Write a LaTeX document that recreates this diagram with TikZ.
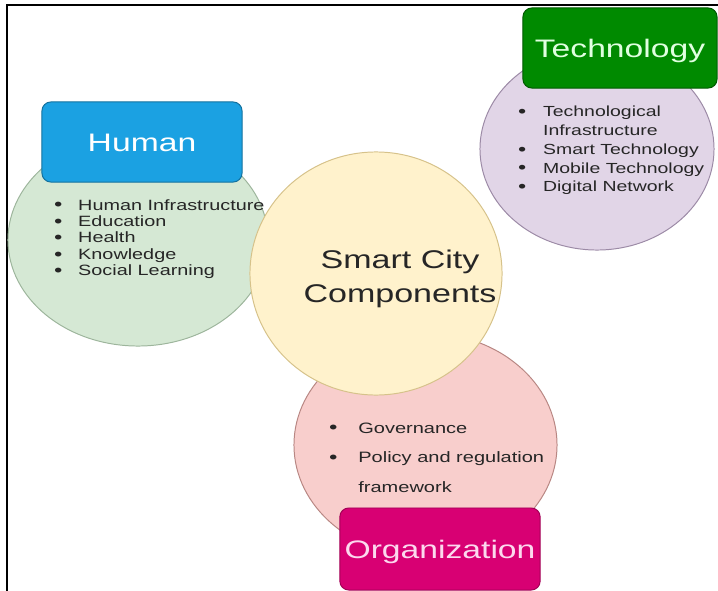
\documentclass[tikz,border=0pt]{standalone}
\usepackage{fontspec}
\setmainfont{Liberation Sans}[FakeStretch=1.33]
\usepackage{graphicx}
\usepackage{xcolor}
\usepackage{tikz}
\usetikzlibrary{shapes.geometric}
\definecolor{human area}{HTML}{D5E8D4}
\definecolor{human edge}{HTML}{9DB59C}
\definecolor{tech area}{HTML}{E1D5E7}
\definecolor{tech edge}{HTML}{9C8AA6}
\definecolor{org area}{HTML}{F8CECC}
\definecolor{org edge}{HTML}{B88783}
\definecolor{city area}{HTML}{FFF2CC}
\definecolor{city edge}{HTML}{D6C28A}
\definecolor{human box}{HTML}{1BA1E2}
\definecolor{tech box}{HTML}{008A00}
\definecolor{org box}{HTML}{D80073}
\colorlet{list text}{black!85}
\newcommand{\bul}{\makebox[0.47em]{\raisebox{-0.06em}{\scalebox{1.2}{\textbullet}}}}
\tikzset{blob/.style={ellipse, inner sep=0pt, line width=0.7pt},
    tagbox/.style={rectangle, rounded corners=0.22cm, line width=0.7pt,
        minimum width=5cm, minimum height=2cm, text height=13pt, text depth=0pt,
        font=\fontsize{18}{20}\selectfont},
    itemlist/.style={anchor=base west, inner sep=0pt, text=list text}}

\begin{document}
\begin{tikzpicture}[x=0.025cm, y=-0.025cm]
    \useasboundingbox (0,0) rectangle (718,591);
    \draw[line width=1.5pt] (7,591) -- (7,5) -- (718,5);
    % the four circles
    \node[blob, fill=human area, draw=human edge, minimum width=6.5cm, minimum height=5.3cm] (human) at (138,240) {};
    \node[blob, fill=tech area, draw=tech edge, minimum width=5.85cm, minimum height=5.05cm] (tech) at (597,149) {};
    \node[blob, fill=org area, draw=org edge, minimum width=6.575cm, minimum height=5.6cm] (org) at (425.5,445) {};
    \node[blob, fill=city area, draw=city edge, minimum width=6.3cm, minimum height=6.075cm] (city) at (376,273.5) {};
    % headings
    \node[tagbox, fill=human box, draw=human box!70!black, text=white] (humantag) at (142,142) {Human};
    \node[tagbox, fill=tech box, draw=tech box!65!black, text=green!12!white, minimum width=4.85cm] (techtag) at (620,48) {Technology};
    \node[tagbox, fill=org box, draw=org box!75!black, text=magenta!15!white, minimum height=2.05cm] (orgtag) at (440,549) {Organization};
    % lists
    \node[itemlist, font=\fontsize{10.6}{11.7}\selectfont] (humanlist) at (54.5,210)
        {\begin{tabular}[t]{@{}l@{\hspace{11.7pt}}l@{}}
            \bul & Human Infrastructure\\
            \bul & Education\\
            \bul & Health\\
            \bul & Knowledge\\
            \bul & Social Learning
        \end{tabular}};
    \node[itemlist, font=\fontsize{10.4}{13.3}\selectfont] (techlist) at (518.5,117)
        {\begin{tabular}[t]{@{}l@{\hspace{12.4pt}}l@{}}
            \bul & Technological\\
                 & Infrastructure\\
            \bul & Smart Technology\\
            \bul & Mobile Technology\\
            \bul & Digital Network
        \end{tabular}};
    \node[itemlist, font=\fontsize{10.7}{21}\selectfont] (orglist) at (329.5,433)
        {\begin{tabular}[t]{@{}l@{\hspace{15.3pt}}l@{}}
            \bul & Governance\\
            \bul & Policy and regulation\\
                 & framework
        \end{tabular}};
    \node[anchor=base, inner sep=0pt, text=list text, font=\fontsize{18.2}{24.2}\selectfont] (citytext) at (400,268)
        {\begin{tabular}[t]{@{}c@{}}Smart City\\ Components\end{tabular}};
\end{tikzpicture}
\end{document}
